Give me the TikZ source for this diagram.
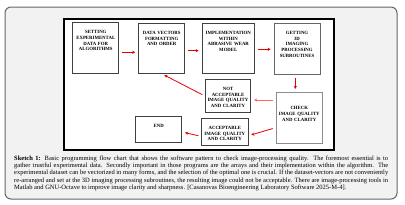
\documentclass[tikz,border=0pt]{standalone}
\usepackage{fontspec}
\setmainfont{Liberation Serif}
\usepackage{tikz}
\usetikzlibrary{arrows.meta,positioning,calc}

\tikzset{
  stepbox/.style={draw=black!75,line width=0.9pt,inner sep=0pt,align=center,
    font=\fontsize{4.8}{5.7}\selectfont\bfseries,text height=11pt},
  flow/.style={draw=red!90!black,line width=0.8pt,-{Stealth[length=3pt,width=3.2pt]},
    shorten <=3pt,shorten >=3pt}
}

\begin{document}
\begin{tikzpicture}[x=1pt,y=-1pt]
  \useasboundingbox (0,0) rectangle (405,204);
  \draw[draw=black!60,fill=black!5,line width=1pt,rounded corners=6pt] (5,7) rectangle (397,199); % 外側の角丸の枠
  \draw[fill=white,line width=1.2pt] (64,19) rectangle (334,150); % 流れ図を囲む黒い枠

  \node[stepbox,text width=46pt,text depth=39.6pt] (setting) at (95.8,48) {SETTING\\EXPERIMENTAL\\DATA FOR\\ALGORITHMS}; % 実験データの設定
  \node[stepbox,text width=46pt,text depth=39pt] (datavec) at (161.7,48.3) {DATA VECTORS\\FORMATTING\\AND ORDER}; % データベクトルの整形
  \node[stepbox,text width=52.5pt,text depth=39pt] (implement) at (228.3,48.3) {IMPLEMENTATION\\WITHIN\\ABRASIVE WEAR\\MODEL}; % 摩耗モデルへの実装
  \node[stepbox,draw=black!60,text width=46pt,text depth=39.7pt] (getting) at (297,48.7) {GETTING\\3D\\IMAGING\\PROCESSING\\SUBROUTINES}; % 3D画像処理
  \node[stepbox,draw=black!45,text width=46.5pt,text height=17.3pt,text depth=33.7pt] (check) at (299.3,117.8) {CHECK\\IMAGE QUALITY\\AND CLARITY}; % 画質の確認
  \node[stepbox,text width=45.4pt,text depth=22.4pt] (notacc) at (228,96) {NOT\\ACCEPTABLE\\IMAGE QUALITY\\AND CLARITY}; % 不合格
  \node[stepbox,text width=46.3pt,text depth=15.7pt] (accept) at (224.8,131.7) {ACCEPTABLE\\IMAGE QUALITY\\AND CLARITY}; % 合格
  \node[stepbox,text width=46pt,text height=11.5pt,text depth=14.9pt] (finish) at (158.7,129.5) {END}; % 終了

  \draw[flow] ([yshift=-4.3pt]setting.east) -- ([yshift=-4pt]datavec.west); % 設定→整形
  \draw[flow] ([yshift=-2.4pt]datavec.east) -- ([yshift=-2.4pt]implement.west); % 整形→実装
  \draw[flow] ([yshift=-1pt]implement.east) -- ([yshift=-0.6pt]getting.east -| getting.west); % 実装→画像処理
  \draw[flow] ([xshift=-1.7pt]getting.south) -- ([xshift=-4pt]check.north); % 画像処理→確認
  \draw[flow,draw=red!60] ([yshift=17.8pt]check.west) -- ([yshift=-4pt]notacc.east); % 確認→不合格
  \draw[flow] (notacc.west) -- (datavec.south); % 不合格→整形へ戻る
  \draw[flow] ([yshift=-9.9pt]check.west) -- ([yshift=-4pt]accept.east); % 確認→合格
  \draw[flow] ([yshift=-4.7pt]accept.west) -- ([yshift=-2.5pt]finish.east); % 合格→終了

  \node[anchor=north west,inner sep=0pt,text width=374pt,align=justify,
    font=\fontsize{6.5}{7.3}\selectfont] (caption) at (14,155.5)
    {\hyphenpenalty=10000\relax\textbf{Sketch 1:} Basic programming flow chart that shows the software pattern to check image-processing quality. The foremost essential is to\linebreak gather trustful experimental data. Secondly important in those programs are the arrays and their implementation within the algorithm. The\linebreak experimental dataset can be vectorized in many forms, and the selection of the optimal one is crucial. If the dataset-vectors are not conveniently\linebreak re-arranged and set at the 3D imaging processing subroutines, the resulting image could not be acceptable. There are image-processing tools in\linebreak Matlab and GNU-Octave to improve image clarity and sharpness. [Casanovas Bioengineering Laboratory Software 2025-M-4].}; % 図の説明文
\end{tikzpicture}
\end{document}
